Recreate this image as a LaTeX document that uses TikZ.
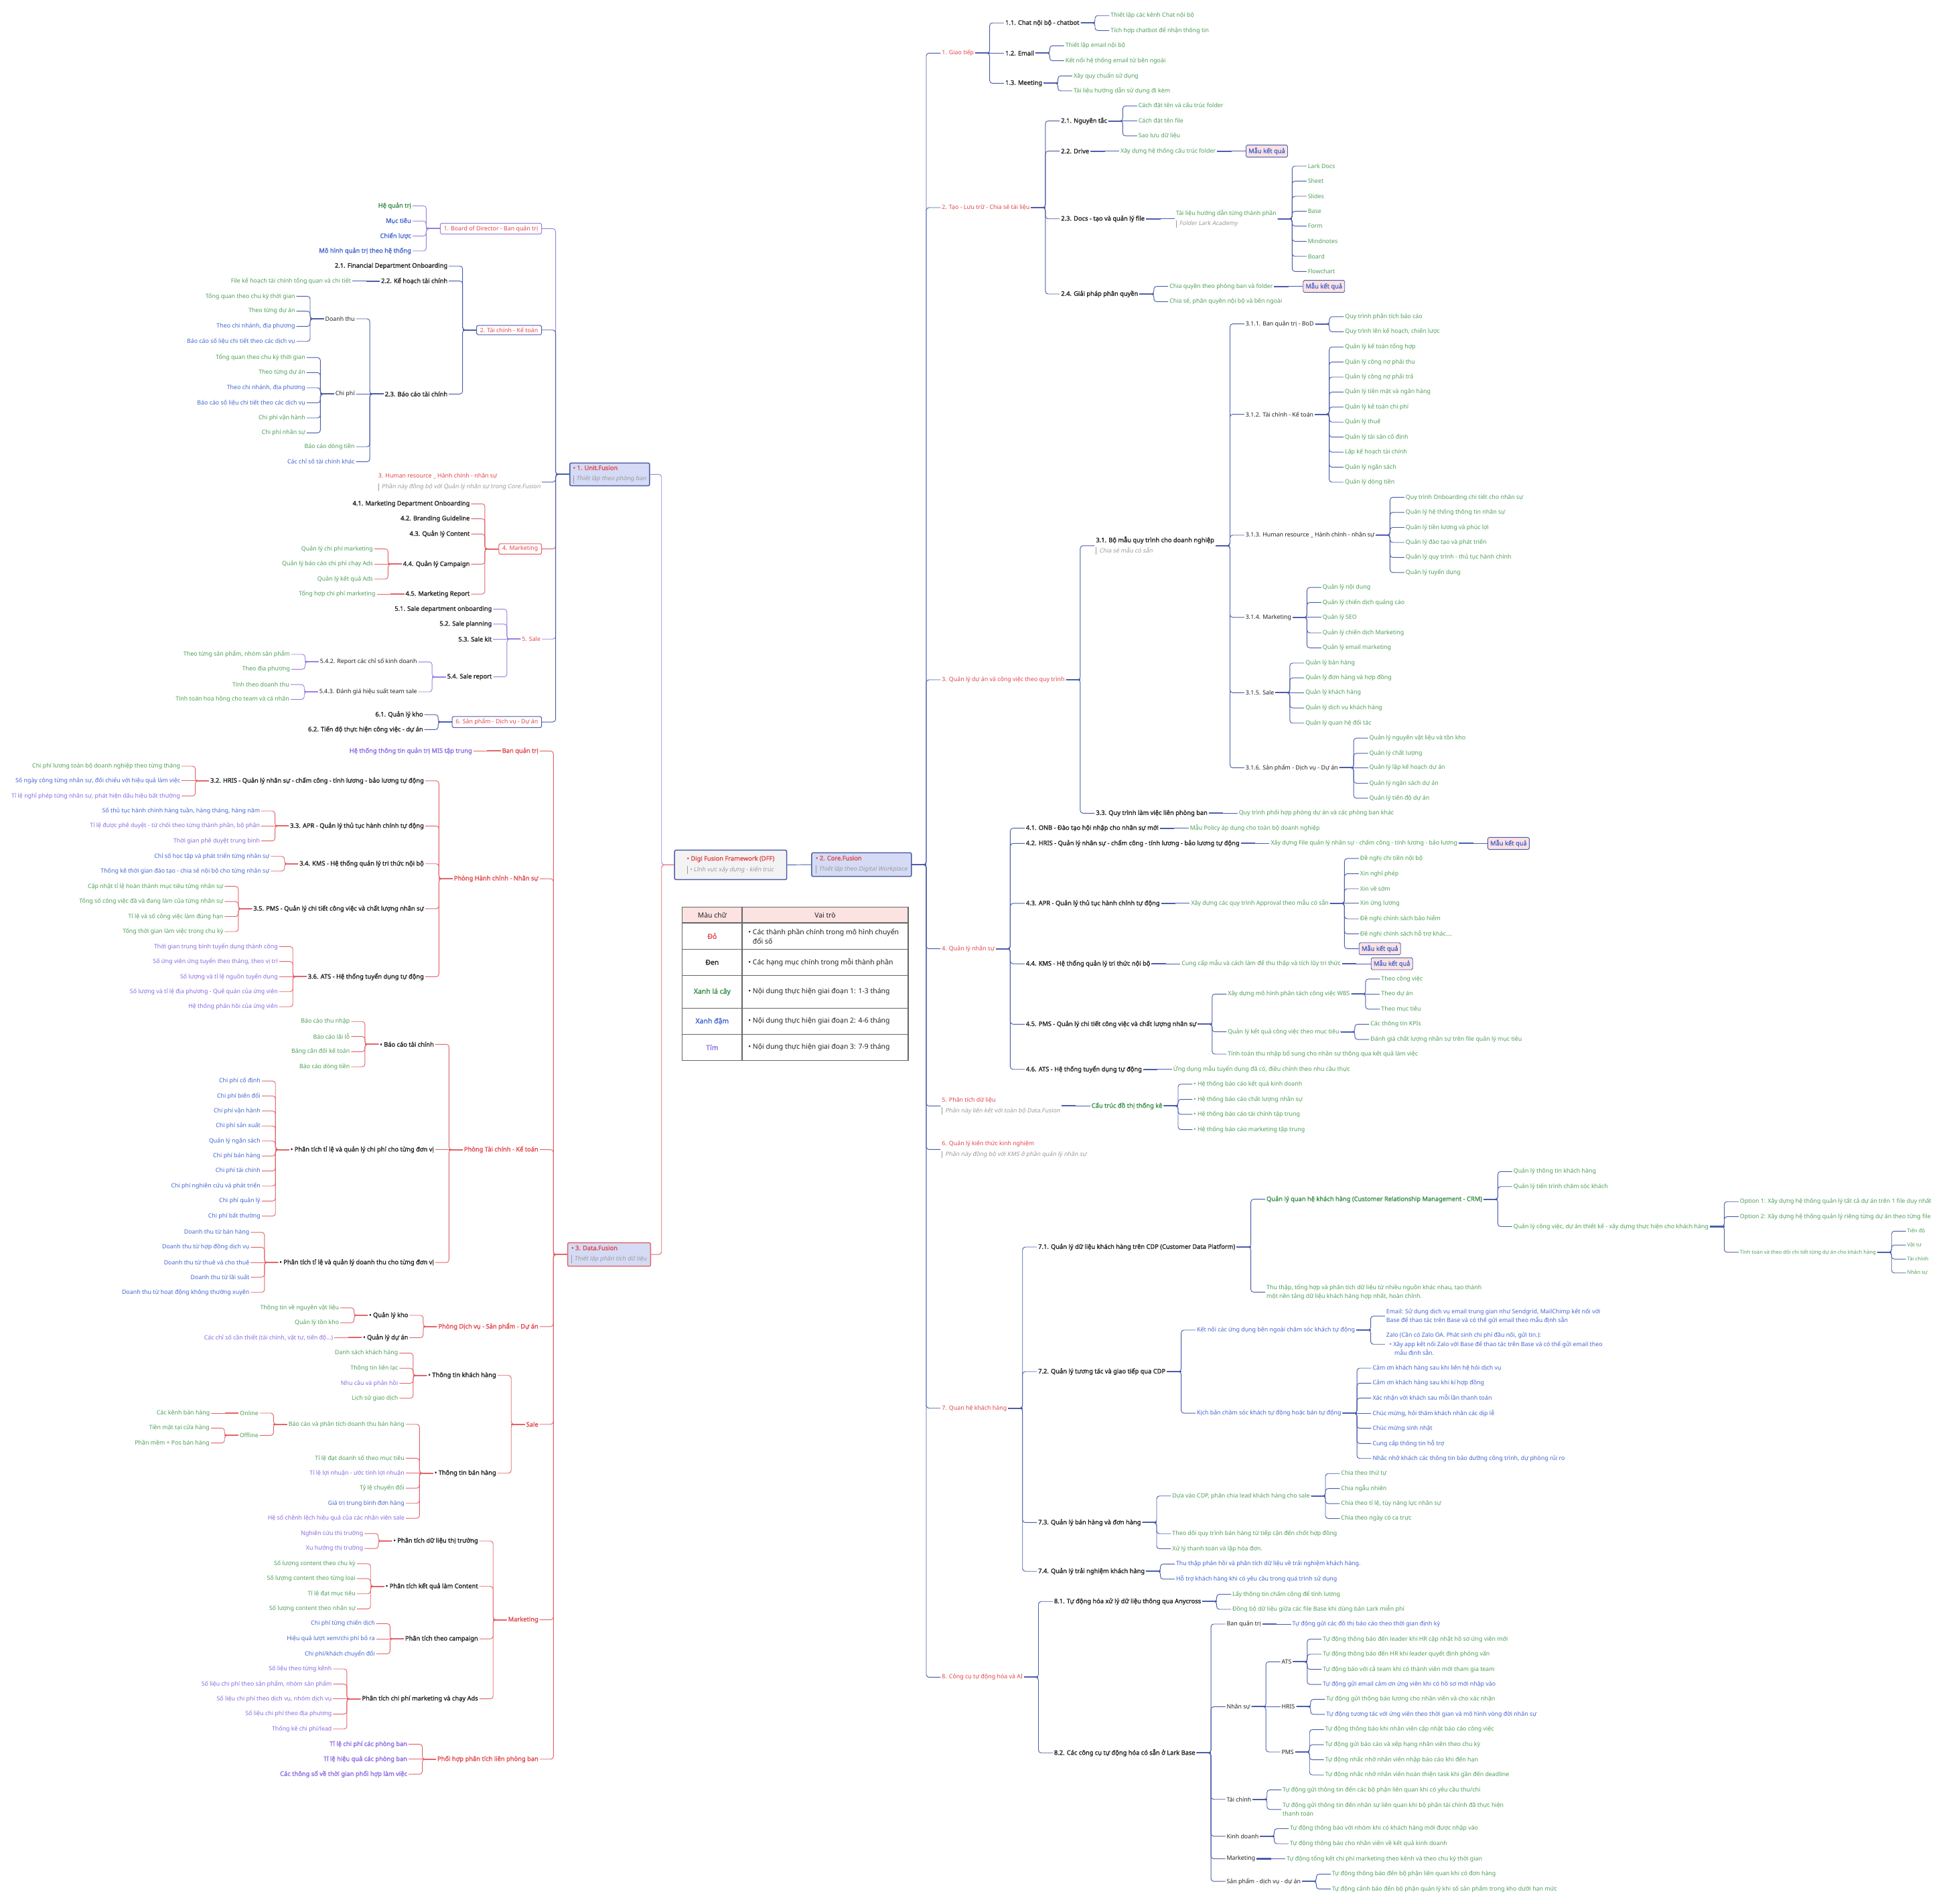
\documentclass[tikz,border=0pt]{standalone}
\usepackage{fontspec}
\setmainfont{Noto Sans}
\newfontfamily\bfam{Noto Sans}[FakeBold=1.6]
\newfontfamily\itfam{Noto Sans}[FakeSlant=0.18]
\usetikzlibrary{calc}
\definecolor{cRedT}{HTML}{E0474C}
\definecolor{cGreenT}{HTML}{4E9F5A}
\definecolor{cGreenB}{HTML}{3A8F48}
\definecolor{cBlueT}{HTML}{4466D0}
\definecolor{cPurpT}{HTML}{8A6BE0}
\definecolor{cInk}{HTML}{222222}
\definecolor{cSub}{HTML}{9A9A9A}
\definecolor{lnBlue}{HTML}{4C5DAA}
\definecolor{lnPurp}{HTML}{9C80DC}
\definecolor{lnRed}{HTML}{E2646A}
\definecolor{fLav}{HTML}{D5DBF4}
\definecolor{fPink}{HTML}{FDE2E2}
\definecolor{fGray}{HTML}{F3F3F3}
\definecolor{tLine}{HTML}{666666}
\newcommand\mfs{\fontsize{4.75}{7.1}\selectfont}
\newcommand\mfb{\bfam\fontsize{5.0}{7.1}\selectfont}
\newcommand\msm{\fontsize{4.1}{5}\selectfont}
\newcommand\mft{\fontsize{5.6}{7.4}\selectfont}
\newcommand\mftb{\bfam\fontsize{5.6}{7.4}\selectfont}
\newcommand\subt[1]{\\[1.3pt]{\itfam\fontsize{4.75}{7.1}\selectfont\color{cSub}\vrule width .45pt height 4.2pt depth 1.6pt\hspace{2.2pt}#1}}
\newcommand\rsub[1]{{\itfam\color{cSub}\vrule width .45pt height 4.5pt depth 2pt\hspace{2pt}#1}}
\tikzset{
 base/.style={font=\mfs, inner sep=0.9pt, align=left},
 tk/.style={base, text=cInk},
 tkb/.style={base, text=cInk, font=\mfb},
 tg/.style={base, text=cGreenT},
 tgb/.style={base, text=cGreenB, font=\mfb},
 tbl/.style={base, text=cBlueT},
 tblb/.style={base, text=cBlueT, font=\mfb},
 tpu/.style={base, text=cPurpT},
 tpub/.style={base, text=cPurpT, font=\mfb},
 trd/.style={base, text=cRedT},
 trdb/.style={base, text=cRedT, font=\mfb},
 tsm/.style={base, text=cGreenT, font=\msm},
 mau/.style={base, text=cBlueT, font=\mfb, fill=fPink, draw=lnBlue, line width=.5pt, rounded corners=1pt, inner xsep=2pt, inner ysep=2pt},
 boxP/.style={base, text=cRedT, draw=lnPurp, fill=white, line width=.55pt, rounded corners=1pt, inner xsep=2.8pt, inner ysep=1.8pt},
 boxB/.style={boxP, draw=lnBlue},
 boxR/.style={boxP, draw=lnRed},
 rootbox/.style={font=\mfs, align=left, inner xsep=2.5pt, inner ysep=2pt, rounded corners=1.2pt, line width=.8pt},
 conn/.style={line width=.5pt, rounded corners=2.2pt},
 stub/.style={line width=1.1pt},
 tline/.style={draw=tLine, line width=.6pt},
 tcell/.style={font=\mft, align=left, inner sep=1pt, text=cInk},
}
\def\gp{23pt}\def\hg{11.5pt}\def\cc{lnBlue}
\newcommand\RN[5]{%
  \path (#2.east) ++(\gp,0) coordinate (#1-c);
  \node[#4,anchor=west] (#1) at (#1-c |- 0,#3) {#5};
  \draw[conn,draw=\cc] (#2.east) -- ++(\hg,0) |- (#1.west);
  \draw[stub,draw=\cc] (#2.east) -- ++(\hg,0);}
\newcommand\RS[4]{%
  \node[#3,anchor=west] (#1) at ([xshift=\gp]#2.east) {#4};
  \draw[conn,draw=\cc] (#2.east) -- (#1.west);
  \draw[stub,draw=\cc] (#2.east) -- ++(\hg,0);}
\newcommand\LN[5]{%
  \path (#2.west) ++(-\gp,0) coordinate (#1-c);
  \node[#4,anchor=east] (#1) at (#1-c |- 0,#3) {#5};
  \draw[conn,draw=\cc] (#2.west) -- ++(-\hg,0) |- (#1.east);
  \draw[stub,draw=\cc] (#2.west) -- ++(-\hg,0);}
\newcommand\LS[4]{%
  \node[#3,anchor=east] (#1) at ([xshift=-\gp]#2.west) {#4};
  \draw[conn,draw=\cc] (#2.west) -- (#1.east);
  \draw[stub,draw=\cc] (#2.west) -- ++(-\hg,0);}
\begin{document}
\begin{tikzpicture}[x=1pt,y=-1pt]
\useasboundingbox (0,0) rectangle (1568,1527);
\fill[white] (0,0) rectangle (1568,1527);

% ---------- roots ----------
\node[rootbox, fill=fGray, draw=lnBlue, minimum width=90pt, minimum height=23.6pt] (DFF) at (586,693.7)
 {{\color{cRedT}\mfb • Digi Fusion Framework (DFF)}\\[1.5pt]\rsub{• Lĩnh vực xây dựng - kiến trúc}};
\node[rootbox, fill=fLav, draw=lnBlue, minimum width=80pt, minimum height=19pt] (CF) at (691,693.5)
 {{\color{cRedT}\mfb • 2. Core.Fusion}\\[1.5pt]\rsub{Thiết lập theo Digital Workplace}};
\node[rootbox, fill=fLav, draw=lnBlue, minimum width=64pt, minimum height=17pt] (UF) at (489,380.5)
 {{\color{cRedT}\mfb • 1. Unit.Fusion}\\[1.5pt]\rsub{Thiết lập theo phòng ban}};
\node[rootbox, fill=fLav, draw=lnRed, minimum width=66.5pt, minimum height=18.8pt] (DF) at (488.5,1006.2)
 {{\color{cRedT}\mfb • 3. Data.Fusion}\\[1.5pt]\rsub{Thiết lập phân tích dữ liệu}};
\draw[conn, draw=lnBlue] (DFF.east) -- (CF.west);
\draw[conn, draw=lnPurp] (DFF.west) -- ++(-10pt,0) |- (UF.east);
\draw[conn, draw=lnRed] (DFF.west) -- ++(-10pt,0) |- (DF.east);

% ---------- table ----------
\fill[fPink] (547.2,727.5) rectangle (728.4,740.2);
\draw[tline] (547.2,727.5) rectangle (728.4,850.5);
\foreach \yy in {740.2,761.3,782.4,808.7,829.7} \draw[tline] (547.2,\yy) -- (728.4,\yy);
\draw[tline] (595.2,727.5) -- (595.2,850.5);
\node[tcell] (th1) at (571.2,733.9) {Màu chữ};
\node[tcell] (th2) at (661.8,733.9) {Vai trò};
\node[tcell, text=cRedT, font=\mftb] (tr1) at (571.2,750.75) {Đỏ};
\node[tcell, anchor=west] (tv1) at (599,750.75) {• Các thành phần chính trong mô hình chuyển\\\hphantom{• }đổi số};
\node[tcell, font=\mftb] (tr2) at (571.2,771.85) {Đen};
\node[tcell, anchor=west] (tv2) at (599,771.85) {• Các hạng mục chính trong mỗi thành phần};
\node[tcell, text=cGreenB, font=\mftb] (tr3) at (571.2,795.55) {Xanh lá cây};
\node[tcell, anchor=west] (tv3) at (599,795.55) {• Nội dung thực hiện giai đoạn 1: 1-3 tháng};
\node[tcell, text=cBlueT, font=\mftb] (tr4) at (571.2,819.2) {Xanh đậm};
\node[tcell, anchor=west] (tv4) at (599,819.2) {• Nội dung thực hiện giai đoạn 2: 4-6 tháng};
\node[tcell, text=cPurpT, font=\mftb] (tr5) at (571.2,840.1) {Tím};
\node[tcell, anchor=west] (tv5) at (599,840.1) {• Nội dung thực hiện giai đoạn 3: 7-9 tháng};

% ---------- Core.Fusion (right) ----------
\def\gp{23pt}\def\hg{11.5pt}\def\cc{lnBlue}
\RN{b1}{CF}{42.6}{trd}{1. Giao tiếp}
\RN{b11}{b1}{18.4}{tkb}{1.1. Chat nội bộ - chatbot}
\RN{b11a}{b11}{12.5}{tg}{Thiết lập các kênh Chat nội bộ}
\RN{b11b}{b11}{24.5}{tg}{Tích hợp chatbot để nhận thông tin}
\RS{b12}{b1}{tkb}{1.2. Email}
\RN{b12a}{b12}{36.7}{tg}{Thiết lập email nội bộ}
\RN{b12b}{b12}{48.7}{tg}{Kết nối hệ thống email từ bên ngoài}
\RN{b13}{b1}{66.8}{tkb}{1.3. Meeting}
\RN{b13a}{b13}{60.9}{tg}{Xây quy chuẩn sử dụng}
\RN{b13b}{b13}{72.9}{tg}{Tài liệu hướng dẫn sử dụng đi kèm}

\RN{b2}{CF}{166.5}{trd}{2. Tạo - Lưu trữ - Chia sẻ tài liệu}
\RN{b21}{b2}{97}{tkb}{2.1. Nguyên tắc}
\RN{b21a}{b21}{84.9}{tg}{Cách đặt tên và cấu trúc folder}
\RS{b21b}{b21}{tg}{Cách đặt tên file}
\RN{b21c}{b21}{109}{tg}{Sao lưu dữ liệu}
\RN{b22}{b2}{121.2}{tkb}{2.2. Drive}
\RS{b22a}{b22}{tg}{Xây dựng hệ thống cấu trúc folder}
\RS{b22m}{b22a}{mau}{Mẫu kết quả}
\RN{b23}{b2}{175.5}{tkb}{2.3. Docs - tạo và quản lý file}
\RS{b23a}{b23}{tg}{Tài liệu hướng dẫn từng thành phần\subt{Folder Lark Academy}}
\RN{b23a1}{b23a}{133.2}{tg}{Lark Docs}
\RN{b23a2}{b23a}{145.2}{tg}{Sheet}
\RN{b23a3}{b23a}{157.4}{tg}{Slides}
\RN{b23a4}{b23a}{169.4}{tg}{Base}
\RN{b23a5}{b23a}{181.4}{tg}{Form}
\RN{b23a6}{b23a}{193.6}{tg}{Mindnotes}
\RN{b23a7}{b23a}{205.6}{tg}{Board}
\RN{b23a8}{b23a}{217.7}{tg}{Flowchart}
\RN{b24}{b2}{235.8}{tkb}{2.4. Giải pháp phân quyền}
\RN{b24a}{b24}{229.7}{tg}{Chia quyền theo phòng ban và folder}
\RS{b24m}{b24a}{mau}{Mẫu kết quả}
\RN{b24b}{b24}{241.9}{tg}{Chia sẻ, phân quyền nội bộ và bên ngoài}

\RN{b3}{CF}{545.2}{trd}{3. Quản lý dự án và công việc theo quy trình}
\RN{b31}{b3}{437.7}{tkb}{3.1. Bộ mẫu quy trình cho doanh nghiệp\subt{Chia sẻ mẫu có sẵn}}
\RN{b311}{b31}{259.8}{tk}{3.1.1. Ban quản trị - BoD}
\RN{b311a}{b311}{254}{tg}{Quy trình phân tích báo cáo}
\RN{b311b}{b311}{266.1}{tg}{Quy trình lên kế hoạch, chiến lược}
\RN{b312}{b31}{332.3}{tk}{3.1.2. Tài chính - Kế toán}
\RN{b312a}{b312}{278.3}{tg}{Quản lý kế toán tổng hợp}
\RN{b312b}{b312}{290.35}{tg}{Quản lý công nợ phải thu}
\RN{b312c}{b312}{302.4}{tg}{Quản lý công nợ phải trả}
\RN{b312d}{b312}{314.45}{tg}{Quản lý tiền mặt và ngân hàng}
\RN{b312e}{b312}{326.5}{tg}{Quản lý kế toán chi phí}
\RN{b312f}{b312}{338.55}{tg}{Quản lý thuế}
\RN{b312g}{b312}{350.6}{tg}{Quản lý tài sản cố định}
\RN{b312h}{b312}{362.65}{tg}{Lập kế hoạch tài chính}
\RN{b312i}{b312}{374.7}{tg}{Quản lý ngân sách}
\RN{b312j}{b312}{386.75}{tg}{Quản lý dòng tiền}
\RN{b313}{b31}{429.2}{tk}{3.1.3. Human resource \_ Hành chính - nhân sự}
\RN{b313a}{b313}{398.9}{tg}{Quy trình Onboarding chi tiết cho nhân sự}
\RN{b313b}{b313}{410.96}{tg}{Quản lý hệ thống thông tin nhân sự}
\RN{b313c}{b313}{423}{tg}{Quản lý tiền lương và phúc lợi}
\RN{b313d}{b313}{435.1}{tg}{Quản lý đào tạo và phát triển}
\RN{b313e}{b313}{447.1}{tg}{Quản lý quy trình - thủ tục hành chính}
\RN{b313f}{b313}{459.2}{tg}{Quản lý tuyển dụng}
\RN{b314}{b31}{495.2}{tk}{3.1.4. Marketing}
\RN{b314a}{b314}{471.2}{tg}{Quản lý nội dung}
\RN{b314b}{b314}{483.2}{tg}{Quản lý chiến dịch quảng cáo}
\RS{b314c}{b314}{tg}{Quản lý SEO}
\RN{b314d}{b314}{507.6}{tg}{Quản lý chiến dịch Marketing}
\RN{b314e}{b314}{519.6}{tg}{Quản lý email marketing}
\RN{b315}{b31}{555.6}{tk}{3.1.5. Sale}
\RN{b315a}{b315}{531.8}{tg}{Quản lý bán hàng}
\RN{b315b}{b315}{543.7}{tg}{Quản lý đơn hàng và hợp đồng}
\RS{b315c}{b315}{tg}{Quản lý khách hàng}
\RN{b315d}{b315}{567.8}{tg}{Quản lý dịch vụ khách hàng}
\RN{b315e}{b315}{580}{tg}{Quản lý quan hệ đối tác}
\RN{b316}{b31}{615.8}{tk}{3.1.6. Sản phẩm - Dịch vụ - Dự án}
\RN{b316a}{b316}{592}{tg}{Quản lý nguyên vật liệu và tồn kho}
\RN{b316b}{b316}{604.2}{tg}{Quản lý chất lượng}
\RS{b316c}{b316}{tg}{Quản lý lập kế hoạch dự án}
\RN{b316d}{b316}{628.2}{tg}{Quản lý ngân sách dự án}
\RN{b316e}{b316}{640.2}{tg}{Quản lý tiến độ dự án}
\RN{b33}{b3}{652.3}{tkb}{3.3. Quy trình làm việc liên phòng ban}
\RS{b33a}{b33}{tg}{Quy trình phối hợp phòng dự án và các phòng ban khác}

\RN{b4}{CF}{761}{trd}{4. Quản lý nhân sự}
\RN{b41}{b4}{664.3}{tkb}{4.1. ONB - Đào tạo hội nhập cho nhân sự mới}
\RS{b41a}{b41}{tg}{Mẫu Policy áp dụng cho toàn bộ doanh nghiệp}
\RN{b42}{b4}{676.5}{tkb}{4.2. HRIS - Quản lý nhân sự - chấm công - tính lương - bảo lương tự động}
\RS{b42a}{b42}{tg}{Xây dựng File quản lý nhân sự - chấm công - tính lương - bảo lương}
\RS{b42m}{b42a}{mau}{Mẫu kết quả}
\RN{b43}{b4}{724.6}{tkb}{4.3. APR - Quản lý thủ tục hành chính tự động}
\RS{b43a}{b43}{tg}{Xây dựng các quy trình Approval theo mẫu có sẵn}
\RN{b43a1}{b43a}{688.6}{tg}{Đề nghị chi tiền nội bộ}
\RN{b43a2}{b43a}{700.8}{tg}{Xin nghỉ phép}
\RN{b43a3}{b43a}{712.8}{tg}{Xin về sớm}
\RS{b43a4}{b43a}{tg}{Xin ứng lương}
\RN{b43a5}{b43a}{737}{tg}{Đề nghị chính sách bảo hiểm}
\RN{b43a6}{b43a}{749}{tg}{Đề nghị chính sách hỗ trợ khác....}
\RN{b43m}{b43a}{761}{mau}{Mẫu kết quả}
\RN{b44}{b4}{773}{tkb}{4.4. KMS - Hệ thống quản lý tri thức nội bộ}
\RS{b44a}{b44}{tg}{Cung cấp mẫu và cách làm để thu thập và tích lũy tri thức}
\RS{b44m}{b44a}{mau}{Mẫu kết quả}
\RN{b45}{b4}{821.5}{tkb}{4.5. PMS - Quản lý chi tiết công việc và chất lượng nhân sự}
\RN{b45a}{b45}{797.3}{tg}{Xây dựng mô hình phân tách công việc WBS}
\RN{b45a1}{b45a}{785.3}{tg}{Theo công việc}
\RS{b45a2}{b45a}{tg}{Theo dự án}
\RN{b45a3}{b45a}{809.4}{tg}{Theo mục tiêu}
\RN{b45b}{b45}{827.6}{tg}{Quản lý kết quả công việc theo mục tiêu}
\RN{b45b1}{b45b}{821.5}{tg}{Các thông tin KPIs}
\RN{b45b2}{b45b}{833.7}{tg}{Đánh giá chất lượng nhân sự trên file quản lý mục tiêu}
\RN{b45c}{b45}{845.5}{tg}{Tính toán thu nhập bổ sung cho nhân sự thông qua kết quả làm việc}
\RN{b46}{b4}{857.7}{tkb}{4.6. ATS - Hệ thống tuyển dụng tự động}
\RS{b46a}{b46}{tg}{Ứng dụng mẫu tuyển dụng đã có, điều chỉnh theo nhu cầu thực}

\RN{b5}{CF}{887.1}{trd}{5. Phân tích dữ liệu\subt{Phần này liên kết với toàn bộ Data.Fusion}}
\RS{b5a}{b5}{tgb}{Cấu trúc đồ thị thống kê}
\RN{b5a1}{b5a}{869.6}{tg}{• Hệ thống báo cáo kết quả kinh doanh}
\RN{b5a2}{b5a}{881.8}{tg}{• Hệ thống báo cáo chất lượng nhân sự}
\RN{b5a3}{b5a}{893.8}{tg}{• Hệ thống báo cáo tài chính tập trung}
\RN{b5a4}{b5a}{906}{tg}{• Hệ thống báo cáo marketing tập trung}
\RN{b6}{CF}{922}{trd}{6. Quản lý kiến thức kinh nghiệm\subt{Phần này đồng bộ với KMS ở phần quản lý nhân sự}}

\RN{b7}{CF}{1129.5}{trd}{7. Quan hệ khách hàng}
\RN{b71}{b7}{1000.2}{tkb}{7.1. Quản lý dữ liệu khách hàng trên CDP (Customer Data Platform)}
\RN{b71a}{b71}{961.9}{tgb}{Quản lý quan hệ khách hàng (Customer Relationship Management - CRM)}
\RN{b71a1}{b71a}{939.7}{tg}{Quản lý thông tin khách hàng}
\RN{b71a2}{b71a}{951.7}{tg}{Quản lý tiến trình chăm sóc khách}
\RN{b71a3}{b71a}{983.8}{tg}{Quản lý công việc, dự án thiết kế - xây dựng thực hiện cho khách hàng}
\RN{b71o1}{b71a3}{963.8}{tg}{Option 1: Xây dựng hệ thống quản lý tất cả dự án trên 1 file duy nhất}
\RN{b71o2}{b71a3}{975.8}{tg}{Option 2: Xây dựng hệ thống quản lý riêng từng dự án theo từng file}
\RN{b71o3}{b71a3}{1004.4}{tsm}{Tính toán và theo dõi chi tiết từng dự án cho khách hàng}
\RN{b71t1}{b71o3}{987.5}{tsm}{Tiến độ}
\RN{b71t2}{b71o3}{998.6}{tsm}{Vật tư}
\RN{b71t3}{b71o3}{1009.9}{tsm}{Tài chính}
\RN{b71t4}{b71o3}{1021}{tsm}{Nhân sự}
\RN{b71b}{b71}{1036.4}{tg}{Thu thập, tổng hợp và phân tích dữ liệu từ nhiều nguồn khác nhau, tạo thành\\một nền tảng dữ liệu khách hàng hợp nhất, hoàn chỉnh.}
\RN{b72}{b7}{1100.1}{tkb}{7.2. Quản lý tương tác và giao tiếp qua CDP}
\RN{b72a}{b72}{1066.8}{tbl}{Kết nối các ứng dụng bên ngoài chăm sóc khách tự động}
\RN{b72a1}{b72a}{1055.6}{tbl}{Email: Sử dụng dịch vụ email trung gian như Sendgrid, MailChimp kết nối với\\Base để thao tác trên Base và có thể gửi email theo mẫu định sẵn}
\RN{b72a2}{b72a}{1078.2}{tbl}{Zalo (Cần có Zalo OA. Phát sinh chi phí đầu nối, gửi tin.):\\\hspace*{2.5pt}• Xây app kết nối Zalo với Base để thao tác trên Base và có thể gửi email theo\\\hspace*{6.5pt}mẫu định sẵn.}
\RN{b72b}{b72}{1133.5}{tbl}{Kịch bản chăm sóc khách tự động hoặc bán tự động}
\RN{b72b1}{b72b}{1097.4}{tbl}{Cảm ơn khách hàng sau khi liên hệ hỏi dịch vụ}
\RN{b72b2}{b72b}{1109.4}{tbl}{Cảm ơn khách hàng sau khi kí hợp đồng}
\RN{b72b3}{b72b}{1121.4}{tbl}{Xác nhận với khách sau mỗi lần thanh toán}
\RS{b72b4}{b72b}{tbl}{Chúc mừng, hỏi thăm khách nhân các dịp lễ}
\RN{b72b5}{b72b}{1145.6}{tbl}{Chúc mừng sinh nhật}
\RN{b72b6}{b72b}{1157.8}{tbl}{Cung cấp thông tin hỗ trợ}
\RN{b72b7}{b72b}{1169.8}{tbl}{Nhắc nhở khách các thông tin bảo dưỡng công trình, dự phòng rủi ro}
\RN{b73}{b7}{1221.2}{tkb}{7.3. Quản lý bán hàng và đơn hàng}
\RN{b73a}{b73}{1199.9}{tg}{Dựa vào CDP, phân chia lead khách hàng cho sale}
\RN{b73a1}{b73a}{1181.9}{tg}{Chia theo thứ tự}
\RN{b73a2}{b73a}{1193.9}{tg}{Chia ngẫu nhiên}
\RN{b73a3}{b73a}{1206}{tg}{Chia theo tỉ lệ, tùy năng lực nhân sự}
\RN{b73a4}{b73a}{1218}{tg}{Chia theo ngày có ca trực}
\RN{b73b}{b73}{1230.1}{tg}{Theo dõi quy trình bán hàng từ tiếp cận đến chốt hợp đồng}
\RN{b73c}{b73}{1242.2}{tg}{Xử lý thanh toán và lập hóa đơn.}
\RN{b74}{b7}{1260.3}{tkb}{7.4. Quản lý trải nghiệm khách hàng}
\RN{b74a}{b74}{1254.5}{tbl}{Thu thập phản hồi và phân tích dữ liệu về trải nghiệm khách hàng.}
\RN{b74b}{b74}{1266.6}{tbl}{Hỗ trợ khách hàng khi có yêu cầu trong quá trình sử dụng}

\RN{b8}{CF}{1345.3}{trd}{8. Công cụ tự động hóa và AI}
\RN{b81}{b8}{1284.5}{tkb}{8.1. Tự động hóa xử lý dữ liệu thông qua Anycross}
\RN{b81a}{b81}{1278.7}{tg}{Lấy thông tin chấm công để tính lương}
\RN{b81b}{b81}{1290.8}{tg}{Đồng bộ dữ liệu giữa các file Base khi dùng bản Lark miễn phí}
\RN{b82}{b8}{1405.9}{tkb}{8.2. Các công cụ tự động hóa có sẵn ở Lark Base}
\RN{b82a}{b82}{1302.6}{tk}{Ban quản trị}
\RS{b82a1}{b82a}{tbl}{Tự động gửi các đồ thị báo cáo theo thời gian định kỳ}
\RN{b82b}{b82}{1368.9}{tk}{Nhân sự}
\RN{b82t}{b82b}{1332.9}{tk}{ATS}
\RN{b82t1}{b82t}{1314.7}{tg}{Tự động thông báo đến leader khi HR cập nhật hồ sơ ứng viên mới}
\RN{b82t2}{b82t}{1326.8}{tg}{Tự động thông báo đến HR khi leader quyết định phỏng vấn}
\RN{b82t3}{b82t}{1338.9}{tg}{Tự động báo với cả team khi có thành viên mới tham gia team}
\RN{b82t4}{b82t}{1351}{tbl}{Tự động gửi email cảm ơn ứng viên khi có hồ sơ mới nhập vào}
\RS{b82h}{b82b}{tk}{HRIS}
\RN{b82h1}{b82h}{1363}{tg}{Tự động gửi thông báo lương cho nhân viên và cho xác nhận}
\RN{b82h2}{b82h}{1375.1}{tbl}{Tự động tương tác với ứng viên theo thời gian và mô hình vòng đời nhân sự}
\RN{b82p}{b82b}{1405.2}{tk}{PMS}
\RN{b82p1}{b82p}{1387.3}{tg}{Tự động thông báo khi nhân viên cập nhật báo cáo công việc}
\RN{b82p2}{b82p}{1399.4}{tg}{Tự động gửi báo cáo và xếp hạng nhân viên theo chu kỳ}
\RN{b82p3}{b82p}{1411.5}{tg}{Tự động nhắc nhở nhân viên nhập báo cáo khi đến hạn}
\RN{b82p4}{b82p}{1423.6}{tg}{Tự động nhắc nhở nhân viên hoàn thiện task khi gần đến deadline}
\RN{b82c}{b82}{1443.2}{tk}{Tài chính}
\RN{b82c1}{b82c}{1435.6}{tg}{Tự động gửi thông tin đến các bộ phận liên quan khi có yêu cầu thu/chi}
\RN{b82c2}{b82c}{1451.3}{tg}{Tự động gửi thông tin đến nhân sự liên quan khi bộ phận tài chính đã thực hiện\\thanh toán}
\RN{b82d}{b82}{1472.8}{tk}{Kinh doanh}
\RN{b82d1}{b82d}{1466.7}{tg}{Tự động thông báo với nhóm khi có khách hàng mới được nhập vào}
\RN{b82d2}{b82d}{1478.8}{tg}{Tự động thông báo cho nhân viên về kết quả kinh doanh}
\RN{b82e}{b82}{1490.9}{tk}{Marketing}
\RS{b82e1}{b82e}{tg}{Tự động tổng kết chi phí marketing theo kênh và theo chu kỳ thời gian}
\RN{b82f}{b82}{1509}{tk}{Sản phẩm - dịch vụ - dự án}
\RN{b82f1}{b82f}{1503.2}{tg}{Tự động thông báo đến bộ phận liên quan khi có đơn hàng}
\RN{b82f2}{b82f}{1515.1}{tg}{Tự động cảnh báo đến bộ phận quản lý khi số sản phẩm trong kho dưới hạn mức}

% ---------- Unit.Fusion (left) ----------
\def\gp{22pt}\def\hg{11pt}
\def\cc{lnPurp}
\LN{u1}{UF}{183.4}{boxP}{1. Board of Director - Ban quản trị}
\LN{u1a}{u1}{165.1}{tgb}{Hệ quản trị}
\LN{u1b}{u1}{177.3}{tblb}{Mục tiêu}
\LN{u1c}{u1}{189.3}{tblb}{Chiến lược}
\LN{u1d}{u1}{201.3}{tblb}{Mô hình quản trị theo hệ thống}
\def\cc{lnBlue}
\LN{u2}{UF}{264.7}{boxB}{2. Tài chính - Kế toán}
\LN{u21}{u2}{213.4}{tkb}{2.1. Financial Department Onboarding}
\LN{u22}{u2}{225.4}{tkb}{2.2. Kế hoạch tài chính}
\LS{u22a}{u22}{tg}{File kế hoạch tài chính tổng quan và chi tiết}
\LN{u23}{u2}{316}{tkb}{2.3. Báo cáo tài chính}
\LN{u231}{u23}{255.7}{tk}{Doanh thu}
\LN{u231a}{u231}{237.6}{tg}{Tổng quan theo chu kỳ thời gian}
\LN{u231b}{u231}{249.6}{tg}{Theo từng dự án}
\LN{u231c}{u231}{261.8}{tbl}{Theo chi nhánh, địa phương}
\LN{u231d}{u231}{273.8}{tbl}{Báo cáo số liệu chi tiết theo các dịch vụ}
\LS{u232}{u23}{tk}{Chi phí}
\LN{u232a}{u232}{286.8}{tg}{Tổng quan theo chu kỳ thời gian}
\LN{u232b}{u232}{298.9}{tg}{Theo từng dự án}
\LN{u232c}{u232}{311}{tbl}{Theo chi nhánh, địa phương}
\LN{u232d}{u232}{323.1}{tbl}{Báo cáo số liệu chi tiết theo các dịch vụ}
\LN{u232e}{u232}{335.2}{tg}{Chi phí vận hành}
\LN{u232f}{u232}{347.2}{tg}{Chi phí nhân sự}
\LN{u233}{u23}{358.3}{tg}{Báo cáo dòng tiền}
\LN{u234}{u23}{370.3}{tbl}{Các chỉ số tài chính khác}
\LN{u3}{UF}{386.7}{trd}{3. Human resource \_ Hành chính - nhân sự\subt{Phần này đồng bộ với Quản lý nhân sự trong Core.Fusion}}
\def\cc{lnRed}
\LN{u4}{UF}{440.3}{boxR}{4. Marketing}
\LN{u41}{u4}{404.1}{tkb}{4.1. Marketing Department Onboarding}
\LN{u42}{u4}{416.1}{tkb}{4.2. Branding Guideline}
\LN{u43}{u4}{428.3}{tkb}{4.3. Quản lý Content}
\LN{u44}{u4}{452.5}{tkb}{4.4. Quản lý Campaign}
\LN{u44a}{u44}{440.3}{tg}{Quản lý chi phí marketing}
\LS{u44b}{u44}{tg}{Quản lý báo cáo chi phí chạy Ads}
\LN{u44c}{u44}{464.5}{tg}{Quản lý kết quả Ads}
\LN{u45}{u4}{476.5}{tkb}{4.5. Marketing Report}
\LS{u45a}{u45}{tg}{Tổng hợp chi phí marketing}
\def\cc{lnPurp}
\LN{u5}{UF}{512.6}{trd}{5. Sale}
\LN{u51}{u5}{488.6}{tkb}{5.1. Sale department onboarding}
\LN{u52}{u5}{500.6}{tkb}{5.2. Sale planning}
\LS{u53}{u5}{tkb}{5.3. Sale kit}
\LN{u54}{u5}{542.9}{tkb}{5.4. Sale report}
\LN{u542}{u54}{530.9}{tk}{5.4.2. Report các chỉ số kinh doanh}
\LN{u542a}{u542}{524.8}{tg}{Theo từng sản phẩm, nhóm sản phẩm}
\LN{u542b}{u542}{536.8}{tg}{Theo địa phương}
\LN{u543}{u54}{554.9}{tk}{5.4.3. Đánh giá hiệu suất team sale}
\LN{u543a}{u543}{549}{tg}{Tính theo doanh thu}
\LN{u543b}{u543}{561}{tg}{Tính toán hoa hồng cho team và cá nhân}
\def\cc{lnBlue}
\LN{u6}{UF}{579.1}{boxB}{6. Sản phẩm - Dịch vụ - Dự án}
\LN{u61}{u6}{573.2}{tkb}{6.1. Quản lý kho}
\LN{u62}{u6}{585.2}{tkb}{6.2. Tiến độ thực hiện công việc - dự án}

% ---------- Data.Fusion (left) ----------
\def\cc{lnRed}
\LN{d1}{DF}{602.4}{trdb}{Ban quản trị}
\LS{d1a}{d1}{tpub}{Hệ thống thông tin quản trị MIS tập trung}
\LN{d2}{DF}{704.8}{trdb}{Phòng Hành chính - Nhân sự}
\LN{d21}{d2}{626.3}{tkb}{3.2. HRIS - Quản lý nhân sự - chấm công - tính lương - bảo lương tự động}
\LN{d21a}{d21}{614.5}{tg}{Chi phí lương toàn bộ doanh nghiệp theo từng tháng}
\LS{d21b}{d21}{tbl}{Số ngày công từng nhân sự, đối chiếu với hiệu quả làm việc}
\LN{d21c}{d21}{638.4}{tpu}{Tỉ lệ nghỉ phép từng nhân sự, phát hiện dấu hiệu bất thường}
\LN{d22}{d2}{662.5}{tkb}{3.3. APR - Quản lý thủ tục hành chính tự động}
\LN{d22a}{d22}{650.5}{tbl}{Số thủ tục hành chính hàng tuần, hàng tháng, hàng năm}
\LS{d22b}{d22}{tpu}{Tỉ lệ được phê duyệt - từ chối theo từng thành phần, bộ phận}
\LN{d22c}{d22}{674.5}{tpu}{Thời gian phê duyệt trung bình}
\LN{d23}{d2}{692.8}{tkb}{3.4. KMS - Hệ thống quản lý tri thức nội bộ}
\LN{d23a}{d23}{686.9}{tbl}{Chỉ số học tập và phát triển từng nhân sự}
\LN{d23b}{d23}{698.7}{tbl}{Thống kê thời gian đào tạo - chia sẻ nội bộ cho từng nhân sự}
\LN{d24}{d2}{728.9}{tkb}{3.5. PMS - Quản lý chi tiết công việc và chất lượng nhân sự}
\LN{d24a}{d24}{710.9}{tg}{Cập nhật tỉ lệ hoàn thành mục tiêu từng nhân sự}
\LN{d24b}{d24}{723.1}{tg}{Tổng số công việc đã và đang làm của từng nhân sự}
\LN{d24c}{d24}{735.1}{tg}{Tỉ lệ và số công việc làm đúng hạn}
\LN{d24d}{d24}{747.2}{tg}{Tổng thời gian làm việc trong chu kỳ}
\LN{d25}{d2}{783.4}{tkb}{3.6. ATS - Hệ thống tuyển dụng tự động}
\LN{d25a}{d25}{759.2}{tpu}{Thời gian trung bình tuyển dụng thành công}
\LN{d25b}{d25}{771.2}{tpu}{Số ứng viên ứng tuyển theo tháng, theo vị trí}
\LS{d25c}{d25}{tpu}{Số lượng và tỉ lệ nguồn tuyển dụng}
\LN{d25d}{d25}{795.4}{tpu}{Số lượng và tỉ lệ địa phương - Quê quán của ứng viên}
\LN{d25e}{d25}{807.5}{tpu}{Hệ thống phản hồi của ứng viên}
\LN{d3}{DF}{922.1}{trdb}{Phòng Tài chính - Kế toán}
\LN{d31}{d3}{837.6}{tkb}{• Báo cáo tài chính}
\LN{d31a}{d31}{819.3}{tg}{Báo cáo thu nhập}
\LN{d31b}{d31}{831.3}{tg}{Báo cáo lãi lỗ}
\LN{d31c}{d31}{843.5}{tg}{Bảng cân đối kế toán}
\LN{d31d}{d31}{855.7}{tg}{Báo cáo dòng tiền}
\LS{d32}{d3}{tkb}{• Phân tích tỉ lệ và quản lý chi phí cho từng đơn vị}
\LN{d32a}{d32}{867}{tbl}{Chi phí cố định}
\LN{d32b}{d32}{879.05}{tbl}{Chi phí biến đổi}
\LN{d32c}{d32}{891.1}{tbl}{Chi phí vận hành}
\LN{d32d}{d32}{903.1}{tbl}{Chi phí sản xuất}
\LN{d32e}{d32}{915.2}{tbl}{Quản lý ngân sách}
\LN{d32f}{d32}{927.2}{tbl}{Chi phí bán hàng}
\LN{d32g}{d32}{939.2}{tbl}{Chi phí tài chính}
\LN{d32h}{d32}{951.3}{tbl}{Chi phí nghiên cứu và phát triển}
\LN{d32i}{d32}{963.3}{tbl}{Chi phí quản lý}
\LN{d32j}{d32}{975.4}{tbl}{Chi phí bất thường}
\LN{d33}{d3}{1012.6}{tkb}{• Phân tích tỉ lệ và quản lý doanh thu cho từng đơn vị}
\LN{d33a}{d33}{988.4}{tbl}{Doanh thu từ bán hàng}
\LN{d33b}{d33}{1000.4}{tbl}{Doanh thu từ hợp đồng dịch vụ}
\LS{d33c}{d33}{tbl}{Doanh thu từ thuê và cho thuê}
\LN{d33d}{d33}{1024.4}{tbl}{Doanh thu từ lãi suất}
\LN{d33e}{d33}{1036.6}{tbl}{Doanh thu từ hoạt động không thường xuyên}
\LN{d4}{DF}{1064}{trdb}{Phòng Dịch vụ - Sản phẩm - Dự án}
\LN{d41}{d4}{1055}{tkb}{• Quản lý kho}
\LN{d41a}{d41}{1049}{tg}{Thông tin về nguyên vật liệu}
\LN{d41b}{d41}{1061}{tg}{Quản lý tồn kho}
\LN{d42}{d4}{1072.9}{tkb}{• Quản lý dự án}
\LS{d42a}{d42}{tpu}{Các chỉ số cần thiết (tài chính, vật tư, tiến độ...)}
\LN{d5}{DF}{1142.4}{trdb}{Sale}
\LN{d51}{d5}{1103.2}{tkb}{• Thông tin khách hàng}
\LN{d51a}{d51}{1085.3}{tg}{Danh sách khách hàng}
\LN{d51b}{d51}{1097.5}{tg}{Thông tin liên lạc}
\LN{d51c}{d51}{1109.5}{tpu}{Nhu cầu và phản hồi}
\LN{d51d}{d51}{1121.5}{tg}{Lịch sử giao dịch}
\LN{d52}{d5}{1181.6}{tkb}{• Thông tin bán hàng}
\LN{d521}{d52}{1142.4}{tg}{Báo cáo và phân tích doanh thu bán hàng}
\LN{d521a}{d521}{1133.4}{tg}{Online}
\LS{d521a1}{d521a}{tg}{Các kênh bán hàng}
\LN{d521b}{d521}{1151.3}{tg}{Offline}
\LN{d521b1}{d521b}{1145.4}{tg}{Tiền mặt tại cửa hàng}
\LN{d521b2}{d521b}{1157.4}{tg}{Phần mềm + Pos bán hàng}
\LN{d522}{d52}{1169.6}{tg}{Tỉ lệ đạt doanh số theo mục tiêu}
\LS{d523}{d52}{tpu}{Tỉ lệ lợi nhuận - ước tính lợi nhuận}
\LN{d524}{d52}{1193.6}{tg}{Tỷ lệ chuyển đổi}
\LN{d525}{d52}{1205.8}{tbl}{Giá trị trung bình đơn hàng}
\LN{d526}{d52}{1217.8}{tpu}{Hệ số chênh lệch hiệu quả của các nhân viên sale}
\LN{d6}{DF}{1299.2}{trdb}{Marketing}
\LN{d61}{d6}{1236}{tkb}{• Phân tích dữ liệu thị trường}
\LN{d61a}{d61}{1230}{tpu}{Nghiên cứu thị trường}
\LN{d61b}{d61}{1242}{tpu}{Xu hướng thị trường}
\LN{d62}{d6}{1272.4}{tkb}{• Phân tích kết quả làm Content}
\LN{d62a}{d62}{1254.2}{tg}{Số lượng content theo chu kỳ}
\LN{d62b}{d62}{1266.2}{tg}{Số lượng content theo từng loại}
\LN{d62c}{d62}{1278.3}{tg}{Tỉ lệ đạt mục tiêu}
\LN{d62d}{d62}{1290.5}{tg}{Số lượng content theo nhân sự}
\LN{d63}{d6}{1314.5}{tkb}{Phân tích theo campaign}
\LN{d63a}{d63}{1302.3}{tbl}{Chi phí từng chiến dịch}
\LS{d63b}{d63}{tbl}{Hiệu quả lượt xem/chi phí bỏ ra}
\LN{d63c}{d63}{1326.5}{tbl}{Chi phí/khách chuyển đổi}
\LN{d64}{d6}{1362.6}{tkb}{Phân tích chi phí marketing và chạy Ads}
\LN{d64a}{d64}{1338.6}{tpu}{Số liệu theo từng kênh}
\LN{d64b}{d64}{1350.8}{tpu}{Số liệu chi phí theo sản phẩm, nhóm sản phẩm}
\LS{d64c}{d64}{tpu}{Số liệu chi phí theo dịch vụ, nhóm dịch vụ}
\LN{d64d}{d64}{1374.8}{tpu}{Số liệu chi phí theo địa phương}
\LN{d64e}{d64}{1386.8}{tpu}{Thống kê chi phí/lead}
\LN{d7}{DF}{1411}{trdb}{Phối hợp phân tích liên phòng ban}
\LN{d7a}{d7}{1399}{tpub}{Tỉ lệ chi phí các phòng ban}
\LS{d7b}{d7}{tpub}{Tỉ lệ hiệu quả các phòng ban}
\LN{d7c}{d7}{1423}{tpub}{Các thông số về thời gian phối hợp làm việc}
\end{tikzpicture}
\end{document}
